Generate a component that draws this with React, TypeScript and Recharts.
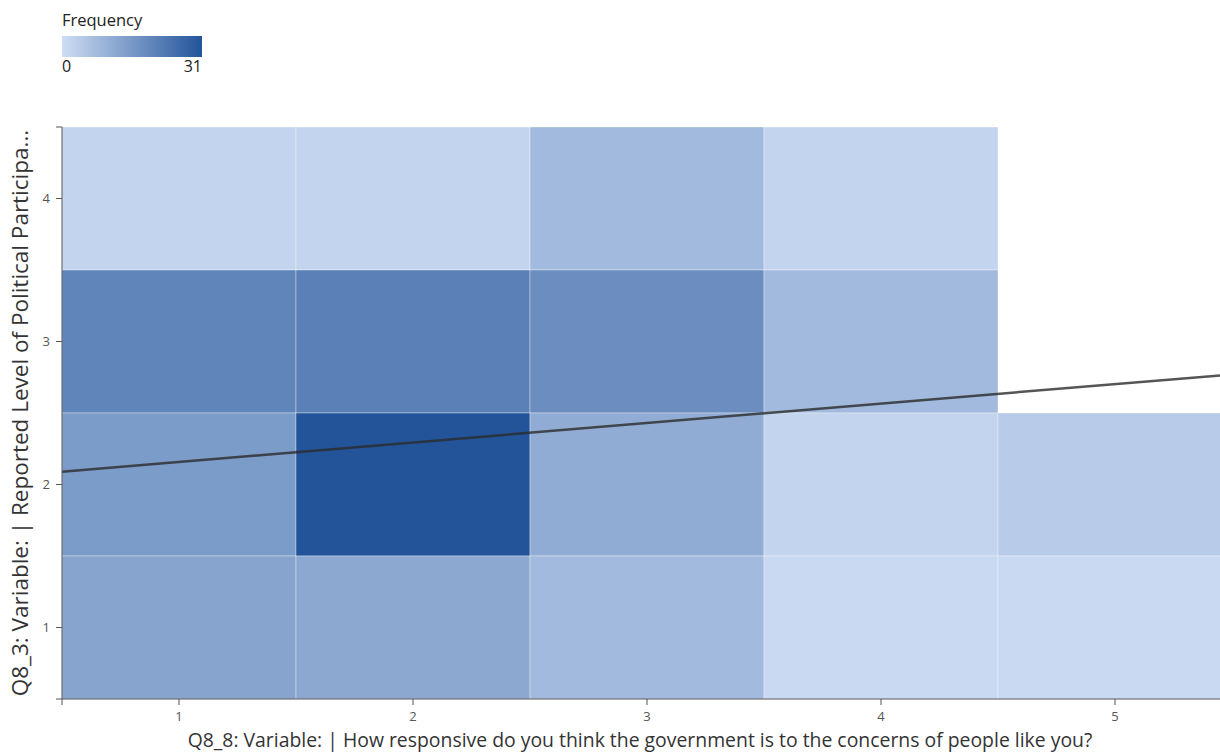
import * as React from 'react';
import {
  ScatterChart,
  Scatter,
  XAxis,
  YAxis,
  ReferenceArea,
  ReferenceLine,
  Label,
} from 'recharts';

// x: government responsiveness (Q8_8), y: political participation (Q8_3)
const xLevels = [1, 2, 3, 4, 5];
const yLevels = [1, 2, 3, 4];

// frequency per cell
const cellX = [1, 2, 3, 4, 1, 2, 3, 4, 1, 2, 3, 4, 5, 1, 2, 3, 4, 5];
const cellY = [4, 4, 4, 4, 3, 3, 3, 3, 2, 2, 2, 2, 2, 1, 1, 1, 1, 1];
const cellCount = [2, 2, 8, 2, 20, 21, 18, 8, 15, 31, 11, 2, 4, 13, 12, 8, 1, 1];

// fitted line endpoints at the domain edges
const fitX = [0.5, 5.5];
const fitY = [2.09, 2.77];

const maxCount = 31;
const lowColor = [206, 221, 244];
const highColor = [35, 84, 154];

const xTitle =
  'Q8_8: Variable: | How responsive do you think the government is to the concerns of people like you?';
const yTitle = 'Q8_3: Variable: | Reported Level of Political Participa...';

const FONT = '"Open Sans", "Noto Sans", sans-serif';

function countColor(n: number) {
  const t = n / maxCount;
  const c = lowColor.map((lo, i) => Math.round(lo + (highColor[i] - lo) * t));
  return `rgb(${c[0]},${c[1]},${c[2]})`;
}

const cells = cellCount.map((count, i) => ({ x: cellX[i], y: cellY[i], count }));

function FrequencyLegend() {
  return (
    <div
      style={{
        position: 'absolute',
        left: 62,
        top: 9,
        width: 142,
        fontFamily: FONT,
        color: '#222',
      }}
    >
      <div style={{ fontSize: 16.5, lineHeight: '22px' }}>Frequency</div>
      <div
        style={{
          marginTop: 5,
          height: 21,
          width: 140,
          background: `linear-gradient(to right, ${countColor(0)}, ${countColor(maxCount)})`,
        }}
      />
      <div style={{ display: 'flex', justifyContent: 'space-between', width: 140, fontSize: 16, lineHeight: '19px' }}>
        <span>0</span>
        <span>{maxCount}</span>
      </div>
    </div>
  );
}

export default function App() {
  const hideEdge = (v: number) => (Number.isInteger(v) ? String(v) : '');
  return (
    <div style={{ position: 'fixed', left: 0, top: 0, width: 1220, height: 752, overflow: 'hidden', background: '#fff' }}>
      <FrequencyLegend />
      <ScatterChart width={1240} height={752} margin={{ top: 127, right: 8, bottom: 0, left: 0 }}>
        <XAxis
          type="number"
          dataKey="x"
          domain={[0.5, 5.5]}
          ticks={[0.5, ...xLevels, 5.5]}
          tickFormatter={hideEdge}
          allowDataOverflow
          height={53}
          tickSize={6}
          tickMargin={7}
          stroke="#555"
          tick={{ fill: '#555', fontSize: 13, fontFamily: FONT }}
        >
          <Label value={xTitle} position="insideBottom" offset={5} dx={-7} fill="#333" fontSize={19.4} fontFamily={FONT} />
        </XAxis>
        <YAxis
          type="number"
          dataKey="y"
          domain={[0.5, 4.5]}
          ticks={[0.5, ...yLevels, 4.5]}
          tickFormatter={hideEdge}
          allowDataOverflow
          width={62}
          tickSize={6}
          tickMargin={6}
          stroke="#555"
          tick={{ fill: '#555', fontSize: 13, fontFamily: FONT }}
        >
          <Label value={yTitle} angle={-90} position="center" dx={-11} fill="#333" fontSize={22.5} fontFamily={FONT} />
        </YAxis>
        {cells.map((c) => (
          <ReferenceArea
            key={`${c.x}-${c.y}`}
            x1={c.x - 0.5}
            x2={c.x + 0.5}
            y1={c.y - 0.5}
            y2={c.y + 0.5}
            fill={countColor(c.count)}
            fillOpacity={1}
            stroke="rgba(255,255,255,0.35)"
            strokeWidth={1}
          />
        ))}
        <Scatter data={cells} fill="none" shape={() => <g />} isAnimationActive={false} />
        <ReferenceLine
          segment={[
            { x: fitX[0], y: fitY[0] },
            { x: fitX[1], y: fitY[1] },
          ]}
          stroke="#2a2a2a"
          strokeOpacity={0.8}
          strokeWidth={2.5}
        />
      </ScatterChart>
    </div>
  );
}
